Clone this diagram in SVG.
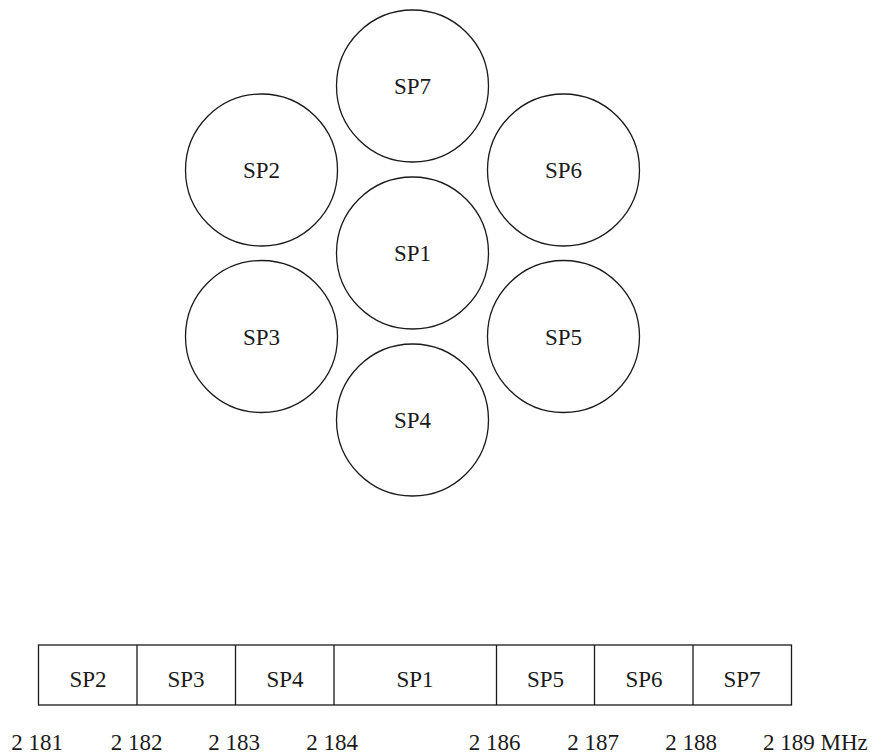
<svg xmlns="http://www.w3.org/2000/svg" width="876" height="756" viewBox="0 0 876 756">
<style>
.c{fill:none;stroke:#1a1a1a;stroke-width:1.3}
.t{font-family:"Liberation Serif","Times New Roman",serif;font-size:23px;fill:#1a1a1a;text-anchor:middle}
.n{font-family:"Liberation Serif","Times New Roman",serif;font-size:23px;fill:#1a1a1a;text-anchor:middle}
</style>
<rect width="876" height="756" fill="#fff"/>
<g id="SP7"><circle class="c" cx="412.5" cy="86" r="76"/><text class="t" x="412.5" y="94">SP7</text></g>
<g id="SP2"><circle class="c" cx="261.5" cy="170" r="76"/><text class="t" x="261.5" y="178">SP2</text></g>
<g id="SP6"><circle class="c" cx="563.5" cy="170" r="76"/><text class="t" x="563.5" y="178">SP6</text></g>
<g id="SP1"><circle class="c" cx="412.5" cy="253" r="76"/><text class="t" x="412.5" y="261">SP1</text></g>
<g id="SP3"><circle class="c" cx="261.5" cy="336.5" r="76"/><text class="t" x="261.5" y="344.5">SP3</text></g>
<g id="SP5"><circle class="c" cx="563.5" cy="336.5" r="76"/><text class="t" x="563.5" y="344.5">SP5</text></g>
<g id="SP4"><circle class="c" cx="412.5" cy="420" r="76"/><text class="t" x="412.5" y="428">SP4</text></g>
<g id="band">
<rect class="c" x="38.5" y="645" width="753" height="60"/>
<line class="c" x1="137" y1="645" x2="137" y2="705"/>
<line class="c" x1="235.5" y1="645" x2="235.5" y2="705"/>
<line class="c" x1="334" y1="645" x2="334" y2="705"/>
<line class="c" x1="496.5" y1="645" x2="496.5" y2="705"/>
<line class="c" x1="594.5" y1="645" x2="594.5" y2="705"/>
<line class="c" x1="693" y1="645" x2="693" y2="705"/>
<text class="t" x="88" y="686.5">SP2</text>
<text class="t" x="186" y="686.5">SP3</text>
<text class="t" x="285" y="686.5">SP4</text>
<text class="t" x="415" y="686.5">SP1</text>
<text class="t" x="545.5" y="686.5">SP5</text>
<text class="t" x="644" y="686.5">SP6</text>
<text class="t" x="742" y="686.5">SP7</text>
</g>
<g id="axis">
<text class="n" x="37" y="750">2 181</text>
<text class="n" x="136.5" y="750">2 182</text>
<text class="n" x="234" y="750">2 183</text>
<text class="n" x="332" y="750">2 184</text>
<text class="n" x="494.5" y="750">2 186</text>
<text class="n" x="593" y="750">2 187</text>
<text class="n" x="691" y="750">2 188</text>
<text class="n" x="763" y="750" style="text-anchor:start">2 189 MHz</text>
</g>
</svg>
